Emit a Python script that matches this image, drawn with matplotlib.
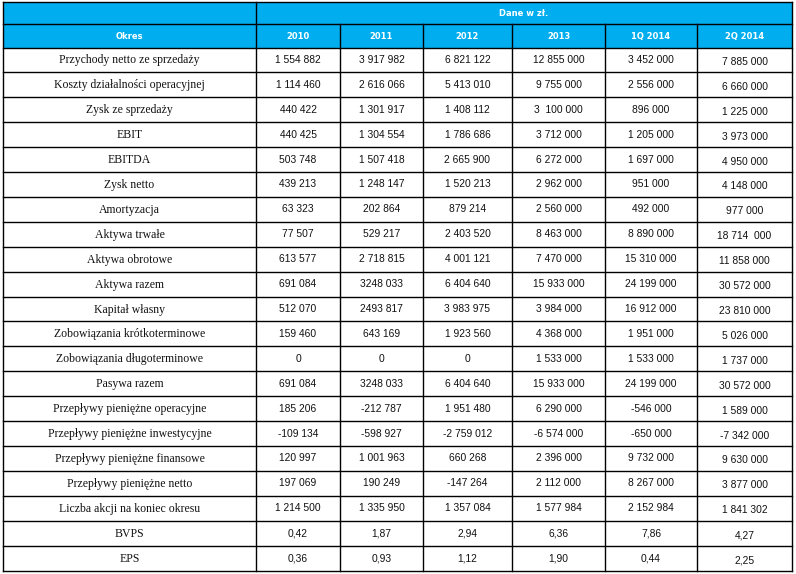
import matplotlib
matplotlib.use("Agg")
import matplotlib.pyplot as plt
from matplotlib.patches import Rectangle

# ---------------- data ----------------
unit_label = "Dane w zł."
first_header = "Okres"
periods = ["2010", "2011", "2012", "2013", "1Q 2014", "2Q 2014"]
row_labels = [
    "Przychody netto ze sprzedaży",
    "Koszty działalności operacyjnej",
    "Zysk ze sprzedaży",
    "EBIT",
    "EBITDA",
    "Zysk netto",
    "Amortyzacja",
    "Aktywa trwałe",
    "Aktywa obrotowe",
    "Aktywa razem",
    "Kapitał własny",
    "Zobowiązania krótkoterminowe",
    "Zobowiązania długoterminowe",
    "Pasywa razem",
    "Przepływy pieniężne operacyjne",
    "Przepływy pieniężne inwestycyjne",
    "Przepływy pieniężne finansowe",
    "Przepływy pieniężne netto",
    "Liczba akcji na koniec okresu",
    "BVPS",
    "EPS",
]
col_2010 = ["1 554 882", "1 114 460", "440 422", "440 425", "503 748", "439 213", "63 323",
            "77 507", "613 577", "691 084", "512 070", "159 460", "0", "691 084", "185 206",
            "-109 134", "120 997", "197 069", "1 214 500", "0,42", "0,36"]
col_2011 = ["3 917 982", "2 616 066", "1 301 917", "1 304 554", "1 507 418", "1 248 147", "202 864",
            "529 217", "2 718 815", "3248 033", "2493 817", "643 169", "0", "3248 033", "-212 787",
            "-598 927", "1 001 963", "190 249", "1 335 950", "1,87", "0,93"]
col_2012 = ["6 821 122", "5 413 010", "1 408 112", "1 786 686", "2 665 900", "1 520 213", "879 214",
            "2 403 520", "4 001 121", "6 404 640", "3 983 975", "1 923 560", "0", "6 404 640", "1 951 480",
            "-2 759 012", "660 268", "-147 264", "1 357 084", "2,94", "1,12"]
col_2013 = ["12 855 000", "9 755 000", "3  100 000", "3 712 000", "6 272 000", "2 962 000", "2 560 000",
            "8 463 000", "7 470 000", "15 933 000", "3 984 000", "4 368 000", "1 533 000", "15 933 000",
            "6 290 000", "-6 574 000", "2 396 000", "2 112 000", "1 577 984", "6,36", "1,90"]
col_1q2014 = ["3 452 000", "2 556 000", "896 000", "1 205 000", "1 697 000", "951 000", "492 000",
              "8 890 000", "15 310 000", "24 199 000", "16 912 000", "1 951 000", "1 533 000", "24 199 000",
              "-546 000", "-650 000", "9 732 000", "8 267 000", "2 152 984", "7,86", "0,44"]
col_2q2014 = ["7 885 000", "6 660 000", "1 225 000", "3 973 000", "4 950 000", "4 148 000", "977 000",
              "18 714  000", "11 858 000", "30 572 000", "23 810 000", "5 026 000", "1 737 000", "30 572 000",
              "1 589 000", "-7 342 000", "9 630 000", "3 877 000", "1 841 302", "4,27", "2,25"]
columns = [col_2010, col_2011, col_2012, col_2013, col_1q2014, col_2q2014]

# ---------------- layout ----------------
W, H = 796, 574
col_edges = [3, 256, 340, 423, 512, 605, 697, 792]
top = 1.5
h1 = 24
h2 = 47.5
row_h = (570.5 - h2) / len(row_labels)
blue = "#00AEEF"

fig = plt.figure(figsize=(W / 100, H / 100), dpi=100)
ax = fig.add_axes([0, 0, 1, 1])
ax.set_xlim(0, W)
ax.set_ylim(H, 0)
ax.axis("off")

bottom = h2 + row_h * len(row_labels)

# header background
ax.add_patch(Rectangle((col_edges[0], top), col_edges[-1] - col_edges[0], h2 - top,
                       facecolor=blue, edgecolor="none", zorder=1))

lw = 1.0
lc = "black"
# horizontal lines
ax.plot([col_edges[0], col_edges[-1]], [top, top], color=lc, lw=lw, zorder=3)
ax.plot([col_edges[0], col_edges[-1]], [h1, h1], color=lc, lw=lw, zorder=3)
ax.plot([col_edges[0], col_edges[-1]], [h2, h2], color=lc, lw=lw, zorder=3)
for i in range(1, len(row_labels) + 1):
    y = h2 + i * row_h
    ax.plot([col_edges[0], col_edges[-1]], [y, y], color=lc, lw=lw, zorder=3)
# vertical lines
for j, x in enumerate(col_edges):
    y0 = top if j in (0, 1, len(col_edges) - 1) else h1
    ax.plot([x, x], [y0, bottom], color=lc, lw=lw, zorder=3)

hdr_font = dict(family="DejaVu Sans", fontsize=6, fontweight="bold", color="white")
ax.text((col_edges[1] + col_edges[-1]) / 2, (top + h1) / 2 + 0.5, unit_label,
        ha="center", va="center", zorder=4, **hdr_font)
ax.text((col_edges[0] + col_edges[1]) / 2, (h1 + h2) / 2 + 0.5, first_header,
        ha="center", va="center", zorder=4, **hdr_font)
for j, p in enumerate(periods):
    cx = (col_edges[j + 1] + col_edges[j + 2]) / 2
    ax.text(cx, (h1 + h2) / 2 + 0.5, p, ha="center", va="center", zorder=4, **hdr_font)

for i, lab in enumerate(row_labels):
    cy = h2 + (i + 0.5) * row_h
    ax.text((col_edges[0] + col_edges[1]) / 2, cy + 0.5, lab, ha="center", va="center",
            family="Liberation Serif", fontsize=8.5, color="#111111", zorder=4)
    for j, col in enumerate(columns):
        cx = (col_edges[j + 1] + col_edges[j + 2]) / 2
        off = 2 if j == len(columns) - 1 else 0
        ax.text(cx, cy + off, col[i], ha="center", va="center",
                family="Liberation Sans", fontsize=7.4, color="#111111", zorder=4)

fig.savefig("out.png", dpi=100)
